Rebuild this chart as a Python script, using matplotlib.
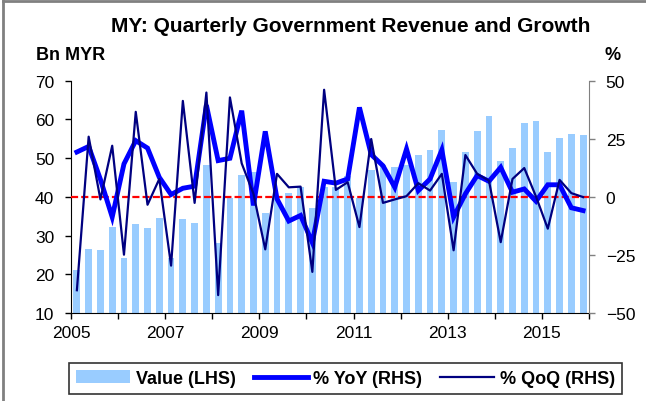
import matplotlib
matplotlib.use("Agg")
import matplotlib.pyplot as plt
from matplotlib.patches import Patch
from matplotlib.lines import Line2D
import numpy as np

plt.rcParams['font.family'] = ['Liberation Sans', 'DejaVu Sans']

start_year = 2005
value = [21.1, 26.6, 26.4, 32.2, 24.2, 33.0, 31.9, 34.5, 24.3, 34.2, 33.3,
         48.2, 28.0, 39.8, 45.7, 46.4, 35.8, 40.3, 40.9, 42.5, 37.0, 42.5,
         42.5, 45.5, 39.8, 47.0, 48.3, 47.6, 48.1, 50.8, 52.2, 57.3, 43.8,
         51.6, 57.1, 61.0, 49.2, 52.7, 59.2, 59.7, 51.5, 55.3, 56.2, 56.0]
yoy = [19.3, 21.7, 7.5, -8.7, 14.2, 24.2, 21.0, 8.4, 1.0, 3.7, 4.6,
       39.5, 15.6, 16.6, 37.1, -3.7, 28.2, -0.9, -10.4, -8.0, -19.7, 6.7,
       5.9, 7.7, 38.5, 18.2, 13.4, 4.1, 20.6, 2.7, 7.7, 20.2, -8.7,
       1.3, 9.2, 6.7, 12.7, 2.0, 3.4, -1.9, 5.2, 5.2, -4.7, -5.9]
qoq = [-40.2, 25.9, -1.1, 22.0, -24.9, 36.6, -3.4, 7.7, -29.6, 41.3, -2.6,
       44.9, -42.3, 42.8, 14.4, 1.3, -22.6, 9.9, 4.1, 4.4, -32.3, 46.1,
       3.0, 6.3, -13.0, 24.9, -2.6, -1.1, 0.3, 5.9, 2.7, 9.9, -23.0,
       18.0, 9.9, 7.0, -19.5, 7.7, 12.4, 0.1, -13.7, 7.3, 1.6, -0.1]
years = list(range(2005, 2017))
xtick_labels = ['2005', '', '2007', '', '2009', '', '2011', '', '2013', '', '2015', '']

n = len(value)
x = start_year + (np.arange(n) + 0.5) / 4.0

fig = plt.figure(figsize=(6.46, 4.02), dpi=100)
ax = fig.add_axes([71/646, 1 - 314/402, (589 - 71)/646, (314 - 81.7)/402])
ax2 = ax.twinx()
ax.set_zorder(1)
ax2.set_zorder(2)
ax.patch.set_visible(False)

ax.bar(x, value, width=0.145, color='#99CCFF', zorder=1)
ax.set_ylim(10, 70)
ax.set_yticks(np.arange(10, 71, 10))
ax.set_xlim(2005, 2016)
ax.set_xticks(years)
ax.set_xticklabels(xtick_labels)

ax2.axhline(0, color='#FF0000', lw=1.6, ls=(0, (3.2, 1.4)), zorder=1)
ax2.plot(x, yoy, color='#0000FF', lw=3.5, solid_joinstyle='miter', zorder=2)
ax2.plot(x, qoq, color='#000080', lw=1.6, zorder=3)
ax2.set_ylim(-50, 50)
ax2.set_yticks([-50, -25, 0, 25, 50])

for a in (ax, ax2):
    a.spines['top'].set_visible(False)
    a.tick_params(axis='y', labelsize=12.5, length=4, width=1, direction='out', pad=8)
ax.tick_params(axis='x', labelsize=12.5, length=4, width=1, direction='out', pad=5)
ax.spines['right'].set_visible(False)
ax2.spines['left'].set_visible(False)
ax2.spines['bottom'].set_visible(False)
ax2.spines['right'].set_color('#808080')
ax2.tick_params(axis='y', colors='#808080', labelcolor='black')

fig.text(351/646, 1 - 26/402, 'MY: Quarterly Government Revenue and Growth',
         ha='center', va='center', fontsize=15, fontweight='bold')
fig.text(36/646, 1 - 56/402, 'Bn MYR', ha='left', va='center', fontsize=13, fontweight='bold')
fig.text(613/646, 1 - 56/402, '%', ha='center', va='center', fontsize=13, fontweight='bold')

handles = [Patch(facecolor='#99CCFF', edgecolor='none'),
           Line2D([0], [0], color='#0000FF', lw=3.5),
           Line2D([0], [0], color='#000080', lw=1.6)]
leg = fig.legend(handles, ['Value (LHS)', '% YoY (RHS)', '% QoQ (RHS)'],
                 loc='center', bbox_to_anchor=((67 + 624) / 2 / 646, 1 - 379.5 / 402),
                 ncol=3, frameon=True, fancybox=False, edgecolor='black',
                 prop={'weight': 'bold', 'size': 13}, handlelength=3.0,
                 handletextpad=0.3, columnspacing=1.0, borderpad=0.4)
leg.get_frame().set_linewidth(1.2)

# chart-area border (top and left edges visible in the reference)
fig.add_artist(Line2D([0.004, 0.004], [0.0, 0.995], transform=fig.transFigure,
                      color='#808080', lw=2))
fig.add_artist(Line2D([0.004, 1.0], [0.995, 0.995], transform=fig.transFigure,
                      color='#808080', lw=2))

fig.savefig('out.png', dpi=100)
